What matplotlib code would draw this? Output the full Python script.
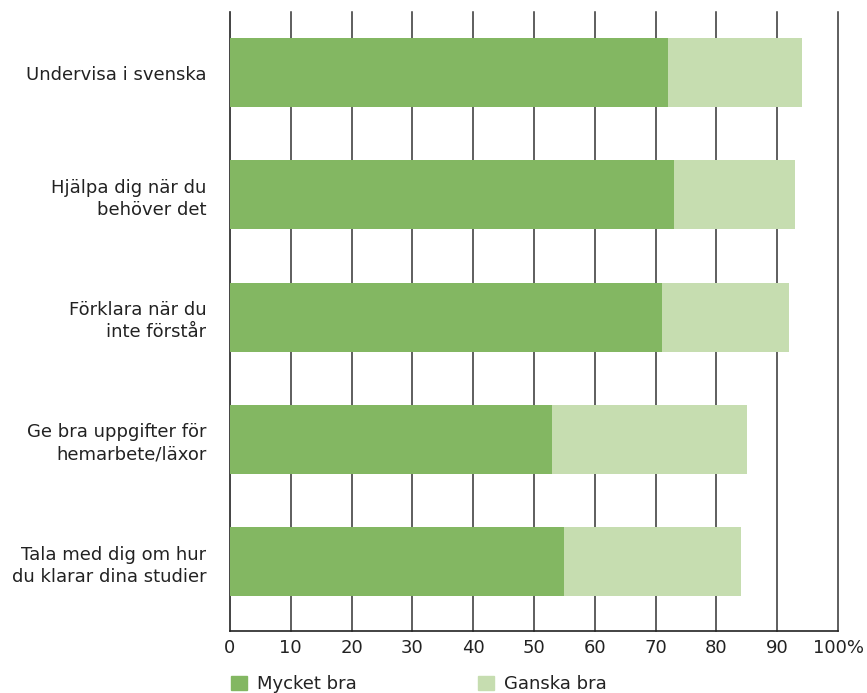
import matplotlib.pyplot as plt
from matplotlib.patches import Patch

plt.rcParams["font.family"] = ["DejaVu Sans"]

categories = [
    "Undervisa i svenska",
    "Hjälpa dig när du\nbehöver det",
    "Förklara när du\ninte förstår",
    "Ge bra uppgifter för\nhemarbete/läxor",
    "Tala med dig om hur\ndu klarar dina studier",
]
mycket_bra = [72, 73, 71, 53, 55]
ganska_bra = [22, 20, 21, 32, 29]
x_ticks = [0, 10, 20, 30, 40, 50, 60, 70, 80, 90, 100]
x_labels = ["0", "10", "20", "30", "40", "50", "60", "70", "80", "90", "100%"]

dark = "#83b762"
light = "#c6ddb0"
text_color = "#222222"

fig = plt.figure(figsize=(8.67, 6.93), dpi=100)
ax = fig.add_axes([230 / 867, 1 - 631 / 693, 608 / 867, 619 / 693])

y = list(range(len(categories)))
ax.barh(y, mycket_bra, height=0.564, color=dark, zorder=3)
ax.barh(y, ganska_bra, left=mycket_bra, height=0.564, color=light, zorder=3)

ax.set_xlim(0, 100)
ax.set_ylim(4.568, -0.495)
ax.set_xticks(x_ticks)
ax.set_xticklabels(x_labels)
ax.set_yticks(y)
ax.set_yticklabels(categories, ha="right", linespacing=1.3)

for v in x_ticks[1:]:
    ax.axvline(v, color="#333333", lw=1.1, zorder=1, clip_on=False)

for s in ["top", "right"]:
    ax.spines[s].set_visible(False)
ax.spines["left"].set_color("#222222")
ax.spines["bottom"].set_color("#222222")
ax.spines["left"].set_linewidth(1.2)
ax.spines["bottom"].set_linewidth(1.2)

ax.tick_params(axis="x", length=0, pad=6, labelsize=13, labelcolor=text_color)
ax.tick_params(axis="y", length=0, pad=17, labelsize=13, labelcolor=text_color)

handles = [Patch(color=dark, label="Mycket bra"), Patch(color=light, label="Ganska bra")]
fig.legend(handles=handles, loc="upper left", bbox_to_anchor=(215 / 867, 1 - 659 / 693),
           ncol=2, frameon=False, fontsize=13, handlelength=0.85, handleheight=0.85,
           handletextpad=0.6, columnspacing=6.7, labelcolor=text_color)

fig.savefig("out.png", dpi=100)
